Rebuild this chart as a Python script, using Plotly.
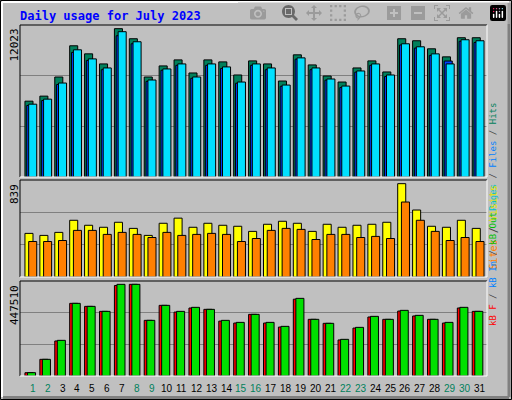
import plotly.graph_objects as go

days = list(range(1, 32))
hits = [6147,6555,8105,10635,9982,9166,12023,11206,8105,9003,9493,8432,9493,9330,8269,9411,9166,7779,9901,9085,8187,7698,8840,9411,8514,11206,11043,10390,9738,11288,11288]
files = [5800,6200,7500,10100,9450,8700,11450,10800,7750,8650,9050,8000,9050,8800,7600,9050,8700,7350,9550,8700,7850,7250,8500,9050,8150,10700,10450,9850,9400,11000,10900]
pages = [5902,6310,7616,10309,9574,8840,11778,10962,7861,8758,9166,8106,9166,8922,7698,9166,8840,7453,9656,8840,7942,7371,8595,9166,8269,10798,10554,9982,9166,11125,11043]
visits = [392,374,401,510,465,447,492,437,374,483,529,447,483,465,456,410,474,501,483,410,474,447,465,474,492,839,602,456,447,510,437]
sites = [319,319,328,419,419,383,401,383,355,401,374,383,392,383,319,346,419,437,428,337,383,383,355,365,346,674,510,410,328,355,319]
kbf = [16000,81350,171000,354700,340000,315600,442000,447510,271700,344900,312000,332000,325400,268000,258500,301000,258500,239000,375000,276600,257100,176000,234000,288000,276600,317000,293000,276600,258500,332000,315600]
kbin = [0]*31
kbout = [16270,81350,174100,354700,340000,315600,447510,447510,271700,344900,315600,335200,325400,271700,261900,301000,261900,242400,379100,276600,257100,179000,237500,291200,276600,320500,296100,276600,261900,335200,315600]
weekend = {1,2,8,9,15,16,22,23,29,30}

M1, M2, M3 = 12320, 872, 463800
W, H = 512, 400
L, R, T, B = 20, 25, 25, 24
def px(X): return (X - L) / (W - L - R)
def py(Y): return (H - B - Y) / (H - T - B)

fig = go.Figure()
def bars(vals, off, color, ya):
    fig.add_trace(go.Bar(x=[d + off for d in days], y=vals, width=0.54, yaxis=ya,
                         marker=dict(color=color, line=dict(color="black", width=1)),
                         showlegend=False, hoverinfo="skip"))
bars(hits, -0.25, "#00805c", "y")
bars(files, -0.13, "#0040ff", "y")
bars(pages, 0.0, "#00e0ff", "y")
bars(visits, -0.25, "#ffff00", "y2")
bars(sites, 0.0, "#ff8000", "y2")
bars(kbf, -0.25, "#ff0000", "y3")
bars(kbin, -0.16, "#0080ff", "y3")
bars(kbout, -0.08, "#00e000", "y3")

ycommon = dict(showticklabels=False, gridcolor="#808080", gridwidth=1, zeroline=False, fixedrange=True)
fig.update_layout(
    width=W, height=H, margin=dict(l=L, r=R, t=T, b=B),
    paper_bgcolor="#c0c0c0", plot_bgcolor="#c0c0c0", barmode="overlay",
    xaxis=dict(range=[0.148, 31.47], showticklabels=False, showgrid=False, zeroline=False),
    yaxis=dict(domain=[py(177), 1], range=[0, M1], tickvals=[M1/3, 2*M1/3], **ycommon),
    yaxis2=dict(domain=[py(277), py(180)], range=[0, M2], tickvals=[M2/3, 2*M2/3], **ycommon),
    yaxis3=dict(domain=[0, py(281)], range=[0, M3], tickvals=[M3/3, 2*M3/3], **ycommon),
)

shapes = []
def line(x0, y0, x1, y1, c, w=1):
    shapes.append(dict(type="line", xref="paper", yref="paper", x0=px(x0), y0=py(y0), x1=px(x1), y1=py(y1),
                       line=dict(color=c, width=w)))
line(0.5, 0.5, 511.5, 0.5, "black"); line(0.5, 399.5, 511.5, 399.5, "black")
line(0.5, 0.5, 0.5, 399.5, "black"); line(511.5, 0.5, 511.5, 399.5, "black")
line(2, 2, 509, 2, "white", 2); line(2, 2, 2, 397, "white", 2)
line(509, 3, 509, 397, "#808080", 3); line(3, 397.5, 509, 397.5, "#808080", 3)
for (y0, y1) in [(25, 177), (180, 277), (281, 376)]:
    line(20, y0, 487, y0, "black"); line(20, y0, 20, y1, "black")
    line(487, y0, 487, y1, "white"); line(20, y1, 487, y1, "white")
fig.update_layout(shapes=shapes)

mono = "DejaVu Sans Mono"
ann = []
ann.append(dict(x=px(18), y=py(16), xref="paper", yref="paper", text="<b>Daily usage for July 2023</b>",
                showarrow=False, xanchor="left", yanchor="middle", font=dict(family=mono, size=12, color="#0000ff")))
for Y, t in [(27, "12023"), (182, "839"), (283, "447510")]:
    ann.append(dict(x=px(14), y=py(Y), xref="paper", yref="paper", text=t, textangle=-90, showarrow=False,
                    xanchor="center", yanchor="top", font=dict(family=mono, size=11, color="black")))
def sp(t, c): return f"<span style='color:{c}'>{t}</span>"
ann.append(dict(x=px(500), y=py(101), xref="paper", yref="paper", textangle=-90, showarrow=False,
                text=sp("Pages", "#00c0c0") + sp(" / ", "#404040") + sp("Files", "#0080ff") + sp(" / ", "#404040") + sp("Hits", "#00805c"),
                font=dict(family=mono, size=9)))
ann.append(dict(x=px(500), y=py(228), xref="paper", yref="paper", textangle=-90, showarrow=False,
                text=sp("Sites", "#ff8000") + sp(" / ", "#404040") + sp("Visits", "#e0e000"),
                font=dict(family=mono, size=10)))
ann.append(dict(x=px(500), y=py(328), xref="paper", yref="paper", textangle=-90, showarrow=False,
                text=sp("kB F", "#ff0000") + sp(" / ", "#404040") + sp("kB In", "#0080ff") + sp(" / ", "#404040") + sp("kB Out", "#00c000"),
                font=dict(family=mono, size=9)))
for d in days:
    ann.append(dict(x=d, y=py(388), xref="x", yref="paper", text=str(d), showarrow=False,
                    xanchor="center", yanchor="middle",
                    font=dict(family="Liberation Sans", size=10, color="#00805c" if d in weekend else "black")))
fig.update_layout(annotations=ann)
fig.write_html("out.html", post_script="document.body.style.margin='0';document.body.style.padding='0';")
